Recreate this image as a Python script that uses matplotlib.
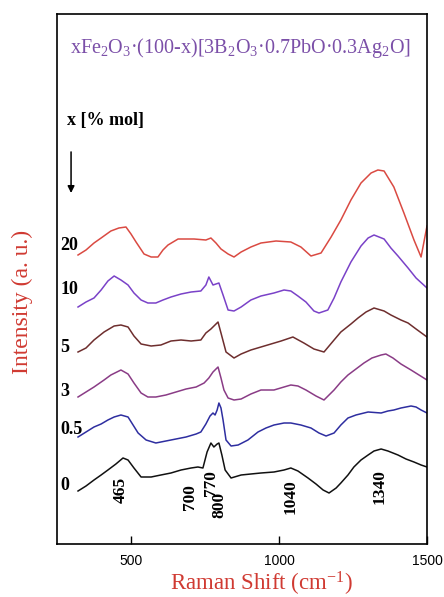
import matplotlib
matplotlib.use("Agg")
import matplotlib.pyplot as plt

plt.rcParams['mathtext.fontset'] = 'custom'
plt.rcParams['mathtext.rm'] = 'Liberation Serif'
plt.rcParams['mathtext.it'] = 'Liberation Serif:italic'
plt.rcParams['mathtext.bf'] = 'Liberation Serif:bold'

# ---- data (Raman shift in cm^-1, stacked intensity in a.u.) ----
w20 = [321, 348, 375, 399, 432, 459, 483, 500, 517, 544, 568, 591, 608, 625, 659, 713, 753, 770, 787, 804,
       828, 848, 872, 905, 939, 990, 1040, 1074, 1108, 1142, 1176, 1209, 1243, 1277, 1311, 1334, 1355, 1388,
       1422, 1456, 1480, 1500]
i20 = [289, 294, 301, 306, 313, 316, 317, 310, 302, 290, 287, 287, 294, 299, 305, 305, 304, 306, 301, 295,
       290, 287, 292, 297, 301, 303, 302, 297, 288, 291, 307, 324, 344, 361, 371, 374, 373, 357,
       331, 304, 287, 318]

w10 = [321, 348, 375, 399, 422, 443, 466, 490, 510, 534, 557, 584, 608, 635, 669, 703, 736, 753, 763, 777,
       787, 797, 811, 828, 848, 872, 905, 939, 983, 1017, 1040, 1064, 1091, 1118, 1135, 1165, 1186, 1209,
       1243, 1277, 1301, 1321, 1355, 1378, 1402, 1436, 1463, 1500]
i10 = [237, 242, 246, 254, 263, 268, 264, 259, 251, 244, 241, 241, 244, 247, 250, 252, 253, 259, 267, 259,
       260, 261, 249, 234, 233, 237, 244, 248, 251, 254, 253, 248, 242, 233, 231, 234, 246, 262,
       282, 298, 306, 309, 305, 296, 288, 276, 266, 256]

w5 = [321, 348, 375, 409, 443, 466, 490, 510, 534, 568, 601, 635, 669, 703, 736, 753, 770, 794, 804, 821,
      848, 872, 905, 939, 973, 1007, 1047, 1084, 1118, 1152, 1186, 1209, 1243, 1267, 1294, 1321, 1355,
      1378, 1412, 1436, 1463, 1500]
i5 = [192, 196, 204, 212, 218, 219, 217, 208, 200, 198, 199, 203, 204, 203, 204, 211, 215, 222, 211, 192,
      186, 190, 194, 197, 200, 203, 207, 201, 195, 192, 204, 212, 220, 226, 232, 236, 233,
      229, 224, 221, 215, 207]

w3 = [321, 348, 375, 409, 432, 466, 490, 510, 534, 557, 584, 618, 652, 686, 720, 747, 763, 777, 794, 804,
      814, 828, 848, 872, 905, 939, 983, 1017, 1040, 1064, 1091, 1125, 1152, 1186, 1209, 1233, 1260,
      1287, 1314, 1345, 1361, 1385, 1412, 1446, 1473, 1500]
i3 = [147, 152, 157, 164, 169, 174, 170, 161, 151, 147, 147, 149, 152, 155, 157, 161, 166, 172, 177, 166,
      154, 146, 144, 145, 150, 154, 154, 157, 159, 158, 154, 148, 144, 154, 162, 169, 175,
      181, 186, 189, 190, 186, 180, 174, 169, 164]

w05 = [321, 348, 375, 399, 422, 443, 466, 490, 507, 524, 551, 584, 618, 652, 686, 720, 736, 753, 767, 777,
       784, 791, 797, 804, 811, 821, 838, 862, 895, 929, 956, 983, 1017, 1040, 1074, 1108, 1135, 1159,
       1186, 1209, 1233, 1260, 1301, 1345, 1368, 1388, 1412, 1446, 1463, 1480, 1500]
i05 = [107, 112, 117, 120, 124, 127, 129, 127, 119, 111, 104, 101, 103, 105, 107, 110, 112, 120, 128, 131,
       129, 134, 141, 136, 124, 104, 98, 99, 104, 112, 116, 119, 121, 121, 119, 116, 111, 108,
       111, 119, 126, 129, 132, 131, 133, 134, 136, 138, 137, 134, 131]

w0 = [321, 348, 375, 399, 422, 449, 473, 490, 510, 534, 568, 601, 635, 669, 703, 726, 743, 757, 770, 780,
      791, 797, 807, 818, 838, 872, 905, 939, 983, 1017, 1040, 1064, 1098, 1125, 1149, 1169, 1193,
      1209, 1233, 1253, 1277, 1301, 1321, 1345, 1368, 1402, 1429, 1456, 1480, 1500]
i0 = [53, 58, 64, 69, 74, 80, 86, 84, 76, 67, 67, 69, 71, 74, 76, 77, 76, 92, 101, 97,
      100, 101, 89, 74, 66, 69, 70, 71, 72, 74, 76, 73, 66, 60, 54, 51, 56,
      61, 69, 77, 84, 89, 93, 95, 93, 89, 85, 82, 79, 77]

series_labels = ['20', '10', '5', '3', '0.5', '0']
series_colors = ['#DA4A42', '#7A42C8', '#6E2E2E', '#8A3C86', '#2E2EA0', '#111111']
series_x = [w20, w10, w5, w3, w05, w0]
series_y = [i20, i10, i5, i3, i05, i0]
label_y = [299, 254, 197, 152, 114, 59]

peak_labels = ['465', '700', '770', '800', '1040', '1340']
peak_pos = [465, 700, 770, 800, 1040, 1340]
peak_text_y = [54, 47, 61, 39, 47, 57]

W, H = 444, 597
fig = plt.figure(figsize=(W / 100, H / 100), dpi=100)
ax = fig.add_axes([57 / W, 1 - 544 / H, 370 / W, 530 / H])

for xs, ys, c in zip(series_x, series_y, series_colors):
    ax.plot(xs, ys, color=c, lw=1.1)

ax.set_xlim(250, 1500)
ax.set_ylim(0, 530)
ax.set_xticks([500, 1000, 1500])
ax.set_yticks([])
ax.tick_params(axis='x', direction='in', length=6, width=1, pad=7, labelsize=10)
for lab in ax.get_xticklabels():
    lab.set_fontfamily('Liberation Sans')
for s in ax.spines.values():
    s.set_linewidth(1.2)

serif = 'Liberation Serif'
# title inside
ax.text(0.497, 0.935, r'xFe$_2$O$_3$·(100-x)[3B$_2$O$_3$·0.7PbO·0.3Ag$_2$O]',
        transform=ax.transAxes, ha='center', va='center', fontsize=14.5,
        color='#7B4FA8', family=serif)
ax.text(0.027, 0.80, 'x [% mol]', transform=ax.transAxes, ha='left', va='center',
        fontsize=13, fontweight='bold', family=serif)
ax.annotate('', xy=(0.038, 0.657), xytext=(0.038, 0.745), xycoords='axes fraction',
            arrowprops=dict(arrowstyle='-|>', color='black', lw=1.1, mutation_scale=10))

for lab, yv in zip(series_labels, label_y):
    ax.text(261, yv, lab, ha='left', va='center', fontsize=13, fontweight='bold', family=serif)

for lab, xv, yv in zip(peak_labels, peak_pos, peak_text_y):
    ax.text(xv, yv, lab, rotation=90, ha='center', va='center', fontsize=12.5,
            fontweight='bold', family=serif)

fig.text(261 / W, 1 - 584 / H, r'Raman Shift (cm$^{-1}$)', ha='center', va='center',
         fontsize=16.5, color='#D03A32', family=serif)
fig.text(22 / W, 1 - 302 / H, 'Intensity (a. u.)', rotation=90, ha='center', va='center',
         fontsize=17, color='#D03A32', family=serif)

fig.savefig('out.png', dpi=100)
